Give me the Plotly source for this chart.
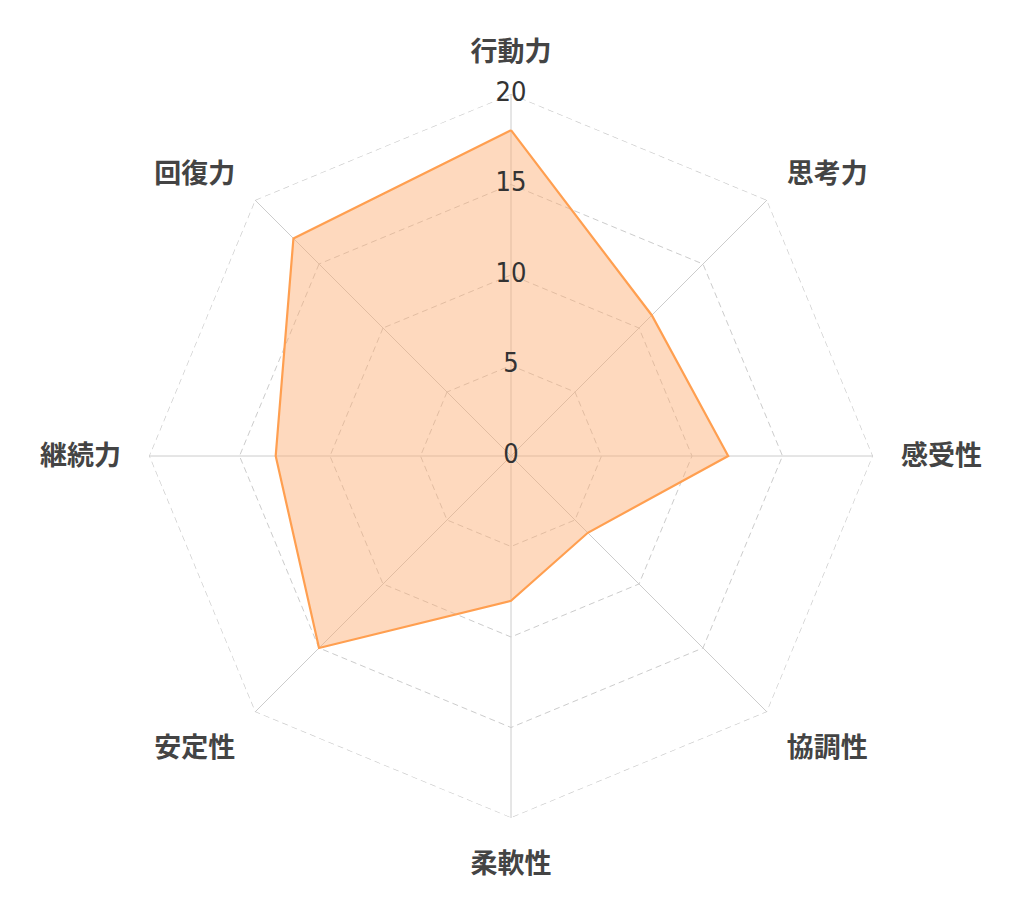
import plotly.graph_objects as go

categories = ["行動力", "思考力", "感受性", "協調性", "柔軟性", "安定性", "継続力", "回復力"]
values = [18, 11, 12, 6, 8, 15, 13, 17]
tick_values = [0, 5, 10, 15, 20]
tick_labels = ["0", "5", "10", "15", "20"]

r_max = tick_values[-1]
grid_color = "#cccccc"

fig = go.Figure()
# outer dashed grid polygon at the top tick value
fig.add_trace(go.Scatterpolar(
    r=[r_max] * (len(categories) + 1),
    theta=categories + [categories[0]],
    mode="lines",
    line=dict(color=grid_color, width=1.3, dash="6px,4px"),
    hoverinfo="skip",
    showlegend=False,
))
fig.add_trace(go.Scatterpolar(
    r=values + [values[0]],
    theta=categories + [categories[0]],
    mode="lines",
    fill="toself",
    fillcolor="rgba(253,170,110,0.45)",
    line=dict(color="#FF9F50", width=2.2),
    hoverinfo="skip",
    showlegend=False,
))
fig.add_trace(go.Scatterpolar(
    r=[v + 1e-4 for v in tick_values],
    theta=[categories[0]] * len(tick_values),
    mode="text",
    text=tick_labels,
    textposition="middle center",
    cliponaxis=False,
    textfont=dict(family="DejaVu Sans Condensed, DejaVu Sans", size=27, color="#333333"),
    hoverinfo="skip",
    showlegend=False,
))

fig.update_layout(
    width=1024, height=908,
    margin=dict(l=141, r=159, t=86, b=98),
    paper_bgcolor="white",
    font=dict(family="Noto Sans CJK JP", color="#444444"),
    polar=dict(
        bgcolor="white",
        gridshape="linear",
        radialaxis=dict(
            range=[0, r_max + 3e-4],
            tickvals=tick_values,
            showticklabels=False,
            showline=False,
            ticks="",
            gridcolor=grid_color,
            griddash="6px,4px",
            gridwidth=1.3,
            angle=90,
        ),
        angularaxis=dict(
            categoryorder="array",
            categoryarray=categories,
            rotation=90,
            direction="clockwise",
            showline=False,
            gridcolor=grid_color,
            gridwidth=1.3,
            ticks="outside",
            ticklen=22,
            tickcolor="rgba(0,0,0,0)",
            tickfont=dict(family="Noto Sans CJK JP", size=27, color="#444444", weight="bold"),
        ),
    ),
)

fig.write_html("out.html")
